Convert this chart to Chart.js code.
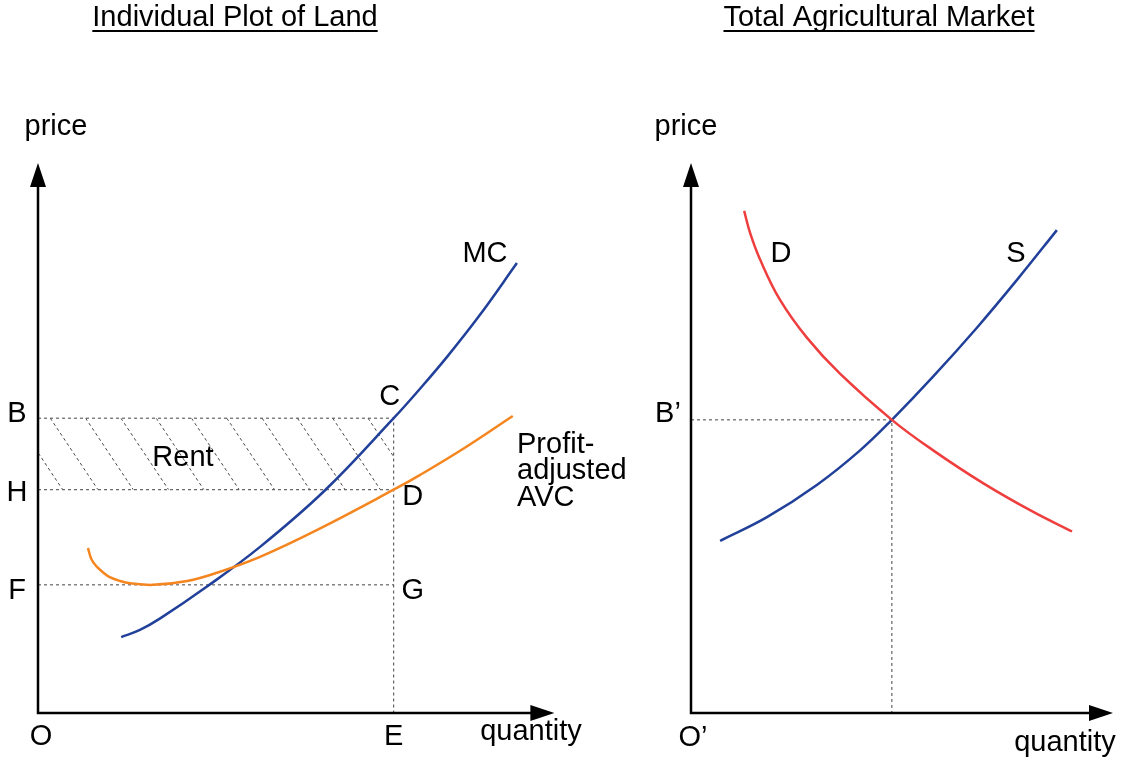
<!DOCTYPE html>
<html>
<head>
<meta charset="utf-8">
<title>Rent diagrams</title>
<script src="https://cdn.jsdelivr.net/npm/chart.js@4/dist/chart.umd.min.js"></script>
<style>
  html, body { margin: 0; padding: 0; background: #fff; }
  #wrap { position: relative; width: 1123px; height: 762px; }
  #wrap canvas { position: absolute; left: 0; top: 0; }
</style>
</head>
<body>
<div id="wrap">
  <canvas id="landChart" width="1123" height="762"></canvas>
  <canvas id="marketChart" width="1123" height="762"></canvas>
</div>
<script>
// ---- data (axis units 0..10) ----
// individual plot of land
const landMcX = [1.60, 1.96, 2.35, 3.25, 4.27, 5.52, 6.84, 7.35, 7.87, 8.50, 9.21];
const landMcY = [1.38, 1.51, 1.72, 2.30, 3.02, 4.05, 5.36, 5.90, 6.48, 7.24, 8.18];
const landAvcX = [0.96, 1.03, 1.13, 1.26, 1.38, 1.58, 1.77, 2.21, 2.87, 3.44, 4.27, 5.37, 6.84, 7.35, 8.17, 9.13];
const landAvcY = [3.00, 2.79, 2.66, 2.55, 2.47, 2.40, 2.36, 2.33, 2.40, 2.55, 2.84, 3.33, 4.06, 4.33, 4.80, 5.40];
const landPriceB = 5.36;
const landPriceH = 4.06;
const landPriceF = 2.33;
const landQtyE = 6.84;

// total agricultural market
const marketDemandX = [1.26, 1.40, 1.64, 2.11, 2.75, 3.53, 4.76, 5.73, 6.92, 8.10, 9.03];
const marketDemandY = [9.13, 8.73, 8.24, 7.51, 6.82, 6.17, 5.33, 4.78, 4.18, 3.66, 3.30];
const marketSupplyX = [0.69, 1.80, 2.99, 4.00, 4.76, 5.73, 6.78, 7.73, 8.67];
const marketSupplyY = [3.13, 3.56, 4.15, 4.77, 5.33, 6.11, 7.01, 7.88, 8.78];
const marketPriceB = 5.33;
const marketQty = 4.76;

const colorBlue = '#21409a';
const colorOrange = '#f5851f';
const colorRed = '#ef3e3e';
const colorDots = '#444';
const font = '29px "Liberation Sans", Arial, sans-serif';

const toPoints = (xs, ys) => xs.map((x, i) => ({ x: x, y: ys[i] }));

const curve = (data, color) => ({
  data: data,
  showLine: true,
  borderColor: color,
  borderWidth: 2.5,
  pointRadius: 0,
  fill: false,
  tension: 0.4,
});

// helpers for the drawing plugins
const dotted = (ctx, pts) => {
  ctx.save();
  ctx.strokeStyle = colorDots;
  ctx.lineWidth = 1;
  ctx.setLineDash([3, 3]);
  ctx.beginPath();
  ctx.moveTo(pts[0][0], pts[0][1]);
  for (let i = 1; i < pts.length; i++) ctx.lineTo(pts[i][0], pts[i][1]);
  ctx.stroke();
  ctx.restore();
};

const label = (ctx, text, x, y, align) => {
  ctx.save();
  ctx.font = font;
  ctx.fillStyle = '#000';
  ctx.textAlign = align || 'center';
  ctx.textBaseline = 'middle';
  ctx.fillText(text, x, y);
  ctx.restore();
};

const title = (ctx, text, cx) => {
  ctx.save();
  ctx.font = font;
  ctx.fillStyle = '#000';
  ctx.textAlign = 'center';
  ctx.textBaseline = 'middle';
  ctx.fillText(text, cx, 18);
  const w = ctx.measureText(text).width;
  ctx.fillRect(cx - w / 2, 30, w, 2);
  ctx.restore();
};

const axes = (chart, xEnd) => {
  const { ctx, scales } = chart;
  const ox = scales.x.getPixelForValue(0);
  const oy = scales.y.getPixelForValue(0);
  const tx = scales.x.getPixelForValue(xEnd);
  const ty = scales.y.getPixelForValue(10);
  ctx.save();
  ctx.strokeStyle = '#000';
  ctx.fillStyle = '#000';
  ctx.lineWidth = 2.5;
  ctx.beginPath();
  ctx.moveTo(ox, ty + 20);
  ctx.lineTo(ox, oy);
  ctx.lineTo(tx - 20, oy);
  ctx.stroke();
  ctx.beginPath();
  ctx.moveTo(ox, ty);
  ctx.lineTo(ox - 8, ty + 24);
  ctx.lineTo(ox + 8, ty + 24);
  ctx.closePath();
  ctx.fill();
  ctx.beginPath();
  ctx.moveTo(tx, oy);
  ctx.lineTo(tx - 24, oy - 8);
  ctx.lineTo(tx - 24, oy + 8);
  ctx.closePath();
  ctx.fill();
  ctx.restore();
};

const landPlugin = {
  id: 'landDrawing',
  beforeDatasetsDraw(chart) {
    const { ctx, scales } = chart;
    const x0 = scales.x.getPixelForValue(0);
    const xE = scales.x.getPixelForValue(landQtyE);
    const yB = scales.y.getPixelForValue(landPriceB);
    const yH = scales.y.getPixelForValue(landPriceH);
    const yF = scales.y.getPixelForValue(landPriceF);
    const y0 = scales.y.getPixelForValue(0);

    // hatched rent rectangle
    ctx.save();
    ctx.beginPath();
    ctx.rect(x0, yB, xE - x0, yH - yB);
    ctx.clip();
    const slope = 0.667;
    for (let sx = x0 - 23; sx < xE; sx += 35.3) {
      dotted(ctx, [[sx, yB], [sx + slope * (yH - yB), yH]]);
    }
    ctx.restore();

    dotted(ctx, [[x0, yB], [xE, yB], [xE, y0]]);
    dotted(ctx, [[x0, yH], [xE, yH]]);
    dotted(ctx, [[x0, yF], [xE, yF]]);
    axes(chart, 9.93);
  },
  afterDatasetsDraw(chart) {
    const { ctx, scales } = chart;
    const xE = scales.x.getPixelForValue(landQtyE);
    const yB = scales.y.getPixelForValue(landPriceB);
    const yH = scales.y.getPixelForValue(landPriceH);
    const yF = scales.y.getPixelForValue(landPriceF);
    title(ctx, 'Individual Plot of Land', 235);
    label(ctx, 'price', 56, 127);
    label(ctx, 'quantity', 531, 732);
    label(ctx, 'O', 41, 737);
    label(ctx, 'E', xE, 737);
    label(ctx, 'B', 17, yB - 4);
    label(ctx, 'H', 17, yH + 3);
    label(ctx, 'F', 17, yF + 6);
    label(ctx, 'C', xE - 4, yB - 21);
    label(ctx, 'D', xE + 19, yH + 7);
    label(ctx, 'G', xE + 19, yF + 6);
    label(ctx, 'Rent', 183, 458);
    label(ctx, 'MC', 485, 254);
    label(ctx, 'Profit-', 517, 445, 'left');
    label(ctx, 'adjusted', 517, 471, 'left');
    label(ctx, 'AVC', 517, 498, 'left');
  },
};

const marketPlugin = {
  id: 'marketDrawing',
  beforeDatasetsDraw(chart) {
    const { ctx, scales } = chart;
    const x0 = scales.x.getPixelForValue(0);
    const xq = scales.x.getPixelForValue(marketQty);
    const yp = scales.y.getPixelForValue(marketPriceB);
    const y0 = scales.y.getPixelForValue(0);
    dotted(ctx, [[x0, yp], [xq, yp], [xq, y0]]);
    axes(chart, 10);
  },
  afterDatasetsDraw(chart) {
    const { ctx, scales } = chart;
    const yp = scales.y.getPixelForValue(marketPriceB);
    title(ctx, 'Total Agricultural Market', 879);
    label(ctx, 'price', 686, 127);
    label(ctx, 'quantity', 1065, 743);
    label(ctx, 'O\u2019', 693, 738);
    label(ctx, 'B\u2019', 668, yp - 6);
    label(ctx, 'D', 781, 254);
    label(ctx, 'S', 1016, 254);
  },
};

const baseOptions = (padding) => ({
  responsive: false,
  animation: false,
  events: [],
  layout: { padding: padding },
  scales: {
    x: { type: 'linear', min: 0, max: 10, display: false },
    y: { type: 'linear', min: 0, max: 10, display: false },
  },
  plugins: {
    legend: { display: false },
    tooltip: { enabled: false },
  },
});

new Chart(document.getElementById('landChart'), {
  type: 'scatter',
  data: {
    datasets: [
      curve(toPoints(landAvcX, landAvcY), colorOrange),
      curve(toPoints(landMcX, landMcY), colorBlue),
    ],
  },
  options: baseOptions({ left: 38, right: 565, top: 163, bottom: 49 }),
  plugins: [landPlugin],
});

new Chart(document.getElementById('marketChart'), {
  type: 'scatter',
  data: {
    datasets: [
      curve(toPoints(marketDemandX, marketDemandY), colorRed),
      curve(toPoints(marketSupplyX, marketSupplyY), colorBlue),
    ],
  },
  options: baseOptions({ left: 691, right: 10, top: 163, bottom: 49 }),
  plugins: [marketPlugin],
});
</script>
</body>
</html>
